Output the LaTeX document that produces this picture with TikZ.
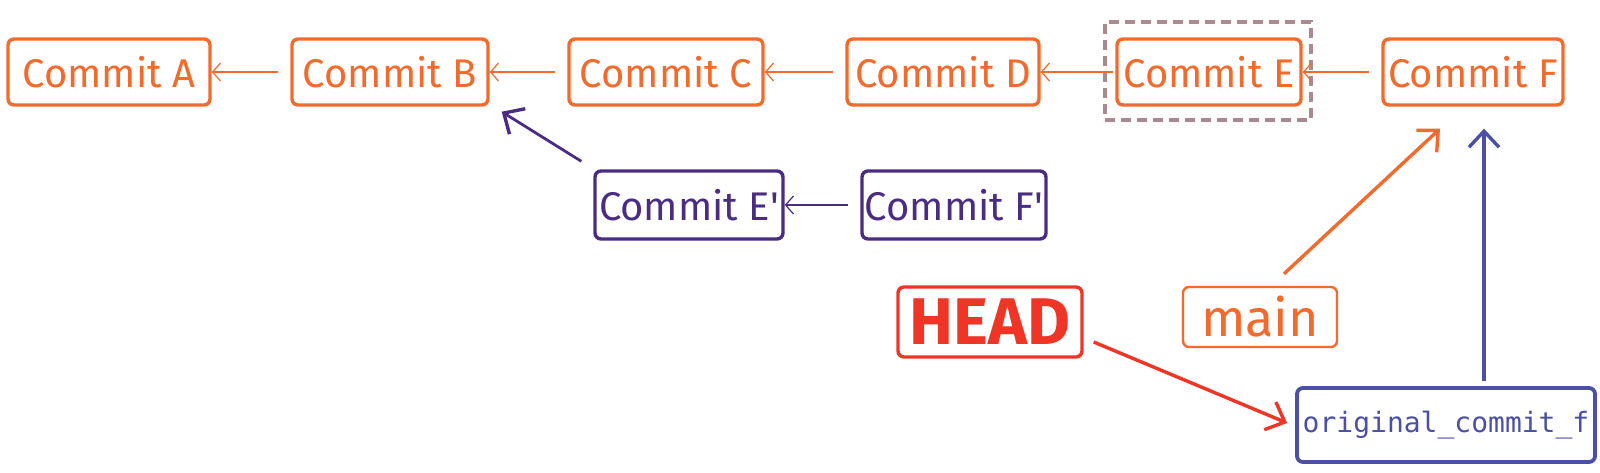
\documentclass[tikz,border=0pt]{standalone}
\usepackage{fontspec}
\setmainfont{Fira Sans}
\newfontfamily\monof{DejaVu Sans Mono}
\usetikzlibrary{arrows.meta,calc}
\definecolor{corange}{HTML}{F26A2C}
\definecolor{cpurple}{HTML}{4A2C82}
\definecolor{cblue}{HTML}{4B4FA6}
\definecolor{cred}{HTML}{EE3526}
\definecolor{cdash}{HTML}{A88B91}
\begin{document}
\begin{tikzpicture}[x=0.5pt,y=-0.5pt,
  box/.style={draw, rounded corners=3pt, line width=1.7pt, inner sep=0pt, font=\fontsize{20}{24}\selectfont},
  commit/.style={box, draw=corange, text=corange, minimum height=33pt},
  rebased/.style={box, draw=cpurple, text=cpurple, minimum height=34pt},
  thinarrow/.style={line width=0.6pt, shorten <=6pt, -{Straight Barb[length=4pt,width=9pt]}},
  thickarrow/.style={line width=1.7pt, -{Straight Barb[length=8pt,width=15pt,line width=1.7pt]}},
]
\useasboundingbox (0,0) rectangle (1600,472);
\node[commit, minimum width=101pt] (A) at (109,72) {Commit A};
\node[commit, minimum width=98pt] (B) at (390,72) {Commit B};
\node[commit, minimum width=97pt] (C) at (666,72) {Commit C};
\node[commit, minimum width=96pt] (D) at (943,72) {Commit D};
\node[commit, minimum width=92pt] (E) at (1209,72) {Commit E};
\node[commit, minimum width=90pt] (F) at (1473,72) {Commit F};
\node[draw=cdash, dashed, dash pattern=on 5pt off 3pt, line width=1.7pt, minimum width=103pt, minimum height=49pt, inner sep=0pt] (sel) at (1208,71) {};
\node[rebased, minimum width=94pt] (E2) at (689,205) {Commit E\textquotesingle};
\node[rebased, minimum width=92pt] (F2) at (954,205) {Commit F\textquotesingle};
\node[box, draw=cred, text=cred, minimum width=92pt, minimum height=35pt, font=\fontsize{33}{36}\selectfont\bfseries] (HEAD) at (990,322) {HEAD};
\node[box, draw=corange, text=corange, line width=1.2pt, minimum width=77pt, minimum height=30pt, font=\fontsize{26}{30}\selectfont] (main) at (1260,317) {main};
\node[box, draw=cblue, text=cblue, line width=1.9pt, minimum width=149pt, minimum height=37pt, font=\monof\fontsize{14}{16}\selectfont] (orig) at (1446,425) {original\_commit\_f};

\draw[thinarrow, draw=corange] (B.west) -- (A.east);
\draw[thinarrow, draw=corange] (C.west) -- (B.east);
\draw[thinarrow, draw=corange] (D.west) -- (C.east);
\draw[thinarrow, draw=corange, shorten <=1pt] (E.west) -- (D.east);
\draw[thinarrow, draw=corange] (F.west) -- (E.east);
\draw[thinarrow, draw=cpurple] (F2.west) -- (E2.west -| E2.east);
\draw[thickarrow, draw=cpurple, line width=1.4pt] ($(E2.north west)+(-12,-8)$) -- ($(B.south east)+(12,5)$);
\draw[thickarrow, draw=corange] ($(main.north)+(24,-12)$) -- ($(F.south)+(-33,22)$);
\draw[thickarrow, draw=cblue] ($(orig.north)+(38,-5)$) -- ($(F.south)+(11,22)$);
\draw[thickarrow, draw=cred] ($(HEAD.east)+(10,20)$) -- ($(orig.west)+(-8,-2)$);
\end{tikzpicture}
\end{document}
